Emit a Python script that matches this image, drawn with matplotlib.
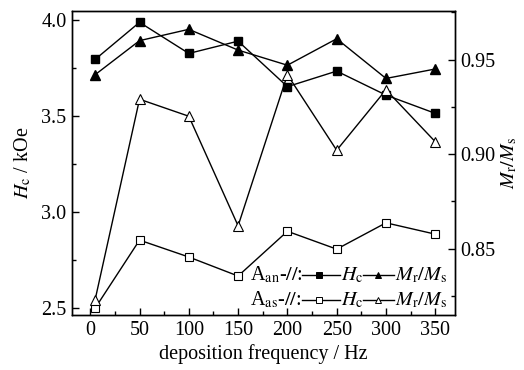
import matplotlib
matplotlib.use("Agg")
import matplotlib.pyplot as plt
from matplotlib.ticker import MultipleLocator

plt.rcParams["font.family"] = ["Liberation Serif", "DejaVu Serif"]
plt.rcParams["mathtext.fontset"] = "stix"

# -------------------------
# Data
# -------------------------

freq = [5, 50, 100, 150, 200, 250, 300, 350]

hc_an = [3.795, 3.988, 3.826, 3.89, 3.653, 3.734, 3.609, 3.514]
mrms_an = [0.942, 0.960, 0.966, 0.955, 0.947, 0.961, 0.940, 0.945]

hc_as = [2.50, 2.854, 2.766, 2.667, 2.90, 2.807, 2.944, 2.885]
mrms_as = [0.823, 0.929, 0.920, 0.862, 0.942, 0.902, 0.934, 0.9065]

xticks = [0, 50, 100, 150, 200, 250, 300, 350]

# -------------------------
# Figure
# -------------------------

fig = plt.figure(figsize=(5.24, 3.70), dpi=100)
ax = fig.add_axes([0.1374, 0.1486, 0.7309, 0.8217])
ax2 = ax.twinx()

lw = 1.0
ax.plot(freq, hc_an, color="black", lw=lw, marker="s", ms=6,
        mfc="black", mec="black", zorder=3)
ax.plot(freq, hc_as, color="black", lw=lw, marker="s", ms=6,
        mfc="white", mec="black", mew=0.8, zorder=3)
ax2.plot(freq, mrms_an, color="black", lw=lw, marker="^", ms=7,
         mfc="black", mec="black", zorder=3)
ax2.plot(freq, mrms_as, color="black", lw=lw, marker="^", ms=7,
         mfc="white", mec="black", mew=0.8, zorder=3)

ax.set_xlim(-18.5, 370)
ax.set_ylim(2.464, 4.047)
ax2.set_ylim(0.8148, 0.9757)

ax.set_xticks(xticks)
ax.xaxis.set_minor_locator(MultipleLocator(25))
ax.set_yticks([2.5, 3.0, 3.5, 4.0])
ax.yaxis.set_minor_locator(MultipleLocator(0.25))
ax2.set_yticks([0.85, 0.90, 0.95])
ax2.yaxis.set_minor_locator(MultipleLocator(0.025))

for a in (ax, ax2):
    a.tick_params(which="major", direction="in", length=5, width=1,
                  labelsize=14.5, pad=4)
    a.tick_params(which="minor", direction="in", length=3, width=1)
    for s in a.spines.values():
        s.set_linewidth(1.0)
ax.tick_params(axis="x", which="both", top=False)
ax.tick_params(axis="y", which="both", right=False)

ax.yaxis.set_major_formatter(plt.FormatStrFormatter("%.1f"))
ax2.yaxis.set_major_formatter(plt.FormatStrFormatter("%.2f"))

ax.set_xlabel("deposition frequency / Hz", fontsize=14.5, labelpad=3)
ax.set_ylabel(r"$H_{\mathrm{c}}$ / kOe", fontsize=14.5, labelpad=6)
ax2.set_ylabel(r"$M_{\mathrm{r}}/M_{\mathrm{s}}$", fontsize=14.5,
               rotation=90, labelpad=3)

# -------------------------
# Legend (drawn by hand, two rows)
# -------------------------

rows = [(0.131, "black", r"A$_{\mathrm{an}}$-$//$:"),
        (0.049, "white", r"A$_{\mathrm{as}}$-$//$:")]
for y, fc, lab in rows:
    ax.text(0.465, y, lab, transform=ax.transAxes, fontsize=14.5,
            va="center", ha="left")
    ax.plot([0.60, 0.70], [y, y], transform=ax.transAxes, color="black",
            lw=lw, clip_on=False)
    ax.plot([0.645], [y], transform=ax.transAxes, marker="s", ms=4,
            mfc=fc, mec="black", mew=0.7, ls="none", clip_on=False)
    ax.text(0.703, y, r"$H_{\mathrm{c}}$", transform=ax.transAxes,
            fontsize=14.5, va="center", ha="left")
    ax.plot([0.76, 0.84], [y, y], transform=ax.transAxes, color="black",
            lw=lw, clip_on=False)
    ax.plot([0.80], [y], transform=ax.transAxes, marker="^", ms=5,
            mfc=fc, mec="black", mew=0.7, ls="none", clip_on=False)
    ax.text(0.843, y, r"$M_{\mathrm{r}}/M_{\mathrm{s}}$",
            transform=ax.transAxes, fontsize=14.5, va="center", ha="left")

fig.savefig("out.png", dpi=100)
